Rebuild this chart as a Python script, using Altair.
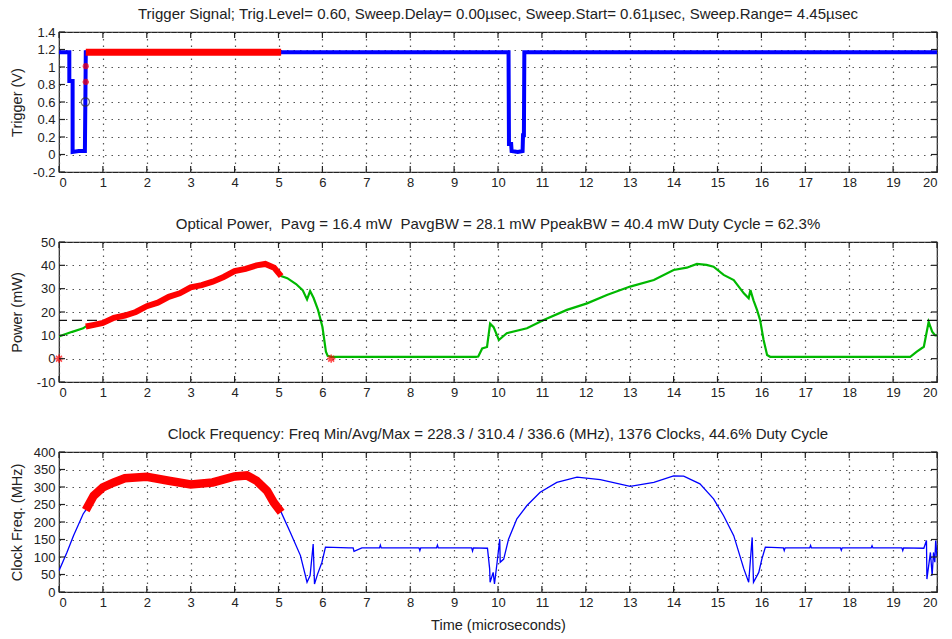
import altair as alt
import pandas as pd

# Acquisition settings shown in the panel titles
TRIG_LEVEL = 0.60
SWEEP_DELAY = 0.00
SWEEP_START = 0.61
SWEEP_RANGE = 4.45
SWEEP_END = SWEEP_START + SWEEP_RANGE

P_AVG = 16.4
P_AVG_BW = 28.1
P_PEAK_BW = 40.4
P_DUTY = 62.3

F_MIN, F_AVG, F_MAX = 228.3, 310.4, 336.6
N_CLOCKS = 1376
F_DUTY = 44.6

# Trigger waveform (microseconds, volts)
trig_t = [0.0, 0.235, 0.235, 0.31, 0.31, 0.45, 0.59, 0.60, 0.61, 1.5, 3.0, 5.06,
          7.5, 10.24, 10.25, 10.30, 10.31, 10.45, 10.56, 10.57, 10.59, 10.60, 15.0, 20.0]
trig_v = [1.17, 1.17, 0.84, 0.84, 0.03, 0.04, 0.04, 0.60, 1.17, 1.17, 1.17, 1.17,
          1.17, 1.17, 0.12, 0.12, 0.04, 0.03, 0.04, 0.22, 0.22, 1.17, 1.17, 1.17]
trig_edge_t = [0.61, 0.61]
trig_edge_v = [0.83, 1.01]

# Optical power (microseconds, mW)
pow_t = [0.0, 0.3, 0.55, 0.61, 0.8, 1.0, 1.25, 1.5, 1.75, 2.0, 2.25, 2.5, 2.75, 3.0,
         3.25, 3.5, 3.75, 4.0, 4.25, 4.5, 4.7, 4.9, 5.06, 5.2, 5.4, 5.55, 5.65, 5.72,
         5.8, 5.9, 6.0, 6.08, 6.12, 6.2, 7.0, 8.0, 9.0, 9.5, 9.55, 9.64, 9.75, 9.82,
         9.9, 10.02, 10.2, 10.66, 11.04, 11.57, 12.03, 12.48, 13.01, 13.55, 14.0,
         14.3, 14.53, 14.75, 14.91, 15.14, 15.37, 15.6, 15.71, 15.75, 15.82, 15.9,
         15.97, 16.05, 16.13, 16.2, 17.0, 18.0, 19.0, 19.39, 19.54, 19.7, 19.81,
         19.89, 19.96, 20.0]
pow_v = [9.5, 11.5, 13.0, 13.8, 14.5, 15.3, 17.5, 18.5, 20.0, 22.5, 24.0, 26.5, 28.0,
         30.6, 31.5, 33.0, 35.0, 37.5, 38.5, 40.0, 40.6, 39.0, 35.4, 34.5, 32.0, 29.4,
         25.4, 29.0, 26.0, 20.9, 13.7, 3.0, 1.2, 0.8, 0.8, 0.8, 0.8, 0.8, 0.9, 4.4,
         5.0, 15.0, 13.5, 8.0, 10.9, 13.0, 16.6, 20.9, 23.7, 27.3, 30.9, 33.7, 38.0,
         39.0, 40.6, 40.2, 39.4, 35.9, 33.7, 28.0, 25.9, 29.4, 25.0, 20.9, 16.6, 8.0,
         1.6, 0.8, 0.8, 0.8, 0.8, 0.8, 3.0, 5.1, 15.8, 11.6, 10.0, 10.0]
pow_mark_t = [0.0, 6.2]
pow_mark_v = [0.0, 0.0]

# Clock frequency (microseconds, MHz)
clk_t = [0.0, 0.18, 0.33, 0.55, 0.61, 0.79, 1.0, 1.25, 1.5, 2.0, 2.5, 3.0, 3.5, 4.0,
         4.28, 4.5, 4.74, 4.89, 5.06, 5.27, 5.5, 5.65, 5.72, 5.79, 5.82, 5.89, 5.99,
         6.07, 6.6, 6.7, 6.72, 6.9, 7.3, 7.32, 7.34, 7.9, 8.2, 8.22, 8.24, 8.6, 8.62,
         8.64, 9.2, 9.4, 9.42, 9.44, 9.76, 9.81, 9.82, 9.89, 9.92, 9.98, 10.04, 10.05,
         10.13, 10.24, 10.43, 10.66, 10.96, 11.34, 11.8, 12.33, 13.01, 13.55, 14.0,
         14.23, 14.6, 14.91, 15.14, 15.37, 15.6, 15.71, 15.79, 15.82, 15.94, 16.01,
         16.09, 16.5, 16.52, 16.54, 17.1, 17.12, 17.14, 17.8, 17.82, 17.84, 18.5,
         18.52, 18.54, 19.2, 19.22, 19.24, 19.7, 19.76, 19.77, 19.85, 19.89, 19.92,
         19.95, 19.97, 20.0]
clk_v = [61, 113, 161, 223, 234, 275, 299, 313, 325, 329, 318, 307, 313, 330,
         333, 318, 289, 256, 228, 170, 104, 28, 47, 137, 23, 51, 85,
         128, 126, 126, 116, 126, 126, 134, 126, 126, 126, 118, 126, 126, 134,
         126, 126, 126, 117, 126, 125, 66, 28, 56, 23, 85, 151, 85,
         94, 151, 209, 247, 285, 313, 328, 321, 302, 313, 332,
         331, 309, 266, 218, 161, 66, 28, 156, 28, 56, 94,
         128, 126, 118, 126, 126, 133, 126, 126, 119, 126, 126,
         132, 126, 126, 118, 126, 125, 147, 37, 113, 47, 113,
         85, 147, 100]

W, H = 878, 140
FONT = "Liberation Sans"
RED = "#ff0000"
NBSP = "\u00a0"
x_ticks = list(range(0, 21))

trig_df = pd.DataFrame({"t": trig_t, "v": trig_v, "i": range(len(trig_t))})
trig_edge_df = pd.DataFrame({"t": trig_edge_t, "v": trig_edge_v})
pow_df = pd.DataFrame({"t": pow_t, "v": pow_v, "i": range(len(pow_t))})
pow_mark_df = pd.DataFrame({"t": pow_mark_t, "v": pow_mark_v})
clk_df = pd.DataFrame({"t": clk_t, "v": clk_v, "i": range(len(clk_t))})

ASTERISK = "M-1,0L1,0M0,-1L0,1M-0.7,-0.7L0.7,0.7M-0.7,0.7L0.7,-0.7"
in_sweep = f"datum.t >= {SWEEP_START} && datum.t <= {SWEEP_END + 0.001}"
plain_label = "replace(format(datum.value, '~g'), '\u2212', '-')"

# Secondary layers share the panel scales but draw no axes of their own
X_PLAIN = alt.X("t:Q", axis=None)
Y_PLAIN = alt.Y("v:Q", axis=None)


def x_enc(show_title):
    return alt.X(
        "t:Q",
        scale=alt.Scale(domain=[0, 20], nice=False, zero=False),
        axis=alt.Axis(
            values=x_ticks, title="Time (microseconds)" if show_title else None,
            labelExpr=plain_label, labelOverlap=False, labelPadding=4, titlePadding=9,
        ),
    )


def y_enc(domain, ticks, title):
    return alt.Y(
        "v:Q",
        scale=alt.Scale(domain=domain, nice=False, zero=False),
        axis=alt.Axis(
            values=ticks, title=title, labelExpr=plain_label, labelOverlap=False,
            labelBound=False, minExtent=30, maxExtent=30, titlePadding=5,
        ),
    )


def frame_ticks(y_ticks):
    """MATLAB-style inward tick marks on all four sides of a panel."""
    xdf = pd.DataFrame({"t": x_ticks})
    ydf = pd.DataFrame({"v": y_ticks})
    base_x = alt.Chart(xdf).mark_rule(color="#222", strokeWidth=1.2)
    base_y = alt.Chart(ydf).mark_rule(color="#222", strokeWidth=1.2)
    return [
        base_x.encode(x=X_PLAIN, y=alt.value(0), y2=alt.value(6)),
        base_x.encode(x=X_PLAIN, y=alt.value(H), y2=alt.value(H - 6)),
        base_y.encode(y=Y_PLAIN, x=alt.value(0), x2=alt.value(6)),
        base_y.encode(y=Y_PLAIN, x=alt.value(W - 6), x2=alt.value(W)),
    ]


def panel(layers, text):
    return alt.layer(*layers).resolve_axis(x="independent", y="independent").properties(
        width=W, height=H,
        title=alt.TitleParams(text, fontSize=15, fontWeight="normal", font=FONT,
                              color="#222", offset=4, frame="group"),
    )


# --- Trigger panel -------------------------------------------------------------
trig_dom = [-0.2, 1.4]
trig_yt = [-0.2, 0, 0.2, 0.4, 0.6, 0.8, 1, 1.2, 1.4]
trig_line = alt.Chart(trig_df).mark_line(color="#0000ff", strokeWidth=4, clip=True).encode(
    x=x_enc(False), y=y_enc(trig_dom, trig_yt, "Trigger (V)"), order="i:Q"
)
trig_sweep = alt.Chart(trig_df).transform_filter(in_sweep).mark_line(
    color=RED, strokeWidth=7, clip=True
).encode(x=X_PLAIN, y=Y_PLAIN, order="i:Q")
trig_stars = alt.Chart(trig_edge_df).mark_point(
    shape=ASTERISK, color=RED, size=40, strokeWidth=2, filled=False
).encode(x=X_PLAIN, y=Y_PLAIN)
trig_level = alt.Chart(pd.DataFrame({"t": [SWEEP_START - 0.01], "v": [TRIG_LEVEL]})).mark_point(
    shape="circle", color="#333", size=70, strokeWidth=1.2, filled=False
).encode(x=X_PLAIN, y=Y_PLAIN)
trigger = panel(
    [trig_line, trig_sweep, trig_stars, trig_level, *frame_ticks(trig_yt)],
    f"Trigger Signal; Trig.Level= {TRIG_LEVEL:.2f}, Sweep.Delay= {SWEEP_DELAY:.2f}\u00b5sec, "
    f"Sweep.Start= {SWEEP_START:.2f}\u00b5sec, Sweep.Range= {SWEEP_RANGE:.2f}\u00b5sec",
)

# --- Optical power panel -------------------------------------------------------
pow_dom = [-10, 50]
pow_yt = [-10, 0, 10, 20, 30, 40, 50]
pow_line = alt.Chart(pow_df).mark_line(color="#00b800", strokeWidth=2.2, clip=True).encode(
    x=x_enc(False), y=y_enc(pow_dom, pow_yt, "Power (mW)"), order="i:Q"
)
pow_sweep = alt.Chart(pow_df).transform_filter(in_sweep).mark_line(
    color=RED, strokeWidth=6, clip=True
).encode(x=X_PLAIN, y=Y_PLAIN, order="i:Q")
pow_avg = alt.Chart(pd.DataFrame({"v": [P_AVG]})).mark_rule(
    color="#111", strokeWidth=1.3, strokeDash=[10, 5]
).encode(y=Y_PLAIN)
pow_stars = alt.Chart(pow_mark_df).mark_point(
    shape=ASTERISK, color=RED, size=70, strokeWidth=1.6, filled=False
).encode(x=X_PLAIN, y=Y_PLAIN)
power = panel(
    [pow_line, pow_avg, pow_sweep, pow_stars, *frame_ticks(pow_yt)],
    f"Optical Power,{NBSP} Pavg = {P_AVG} mW{NBSP} PavgBW = {P_AVG_BW} mW "
    f"PpeakBW = {P_PEAK_BW} mW Duty Cycle = {P_DUTY}%",
)

# --- Clock frequency panel -----------------------------------------------------
clk_dom = [0, 400]
clk_yt = [0, 50, 100, 150, 200, 250, 300, 350, 400]
clk_line = alt.Chart(clk_df).mark_line(color="#0000ff", strokeWidth=1.3, clip=True).encode(
    x=x_enc(True), y=y_enc(clk_dom, clk_yt, "Clock Freq. (MHz)"), order="i:Q"
)
clk_sweep = alt.Chart(clk_df).transform_filter(in_sweep).mark_line(
    color=RED, strokeWidth=8.5, clip=True
).encode(x=X_PLAIN, y=Y_PLAIN, order="i:Q")
clock = panel(
    [clk_line, clk_sweep, *frame_ticks(clk_yt)],
    f"Clock Frequency: Freq Min/Avg/Max = {F_MIN} / {F_AVG} / {F_MAX} (MHz), "
    f"{N_CLOCKS} Clocks, {F_DUTY}% Duty Cycle",
)

chart = alt.vconcat(trigger, power, clock, spacing=26).properties(
    padding={"top": 6, "left": 8, "right": 8, "bottom": 2},
    background="white",
).configure_view(
    stroke="#222", strokeWidth=1.2
).configure_axis(
    labelFont=FONT, titleFont=FONT, labelFontSize=13, titleFontSize=14.5,
    titleFontWeight="normal", labelColor="#222", titleColor="#222",
    ticks=False, domain=False, labelOverlap=False,
    grid=True, gridColor="#555", gridDash=[1.5, 5], gridWidth=1.2, gridOpacity=1,
    labelPadding=4,
)

chart.save("out.html", embed_options={"renderer": "svg", "actions": False})
